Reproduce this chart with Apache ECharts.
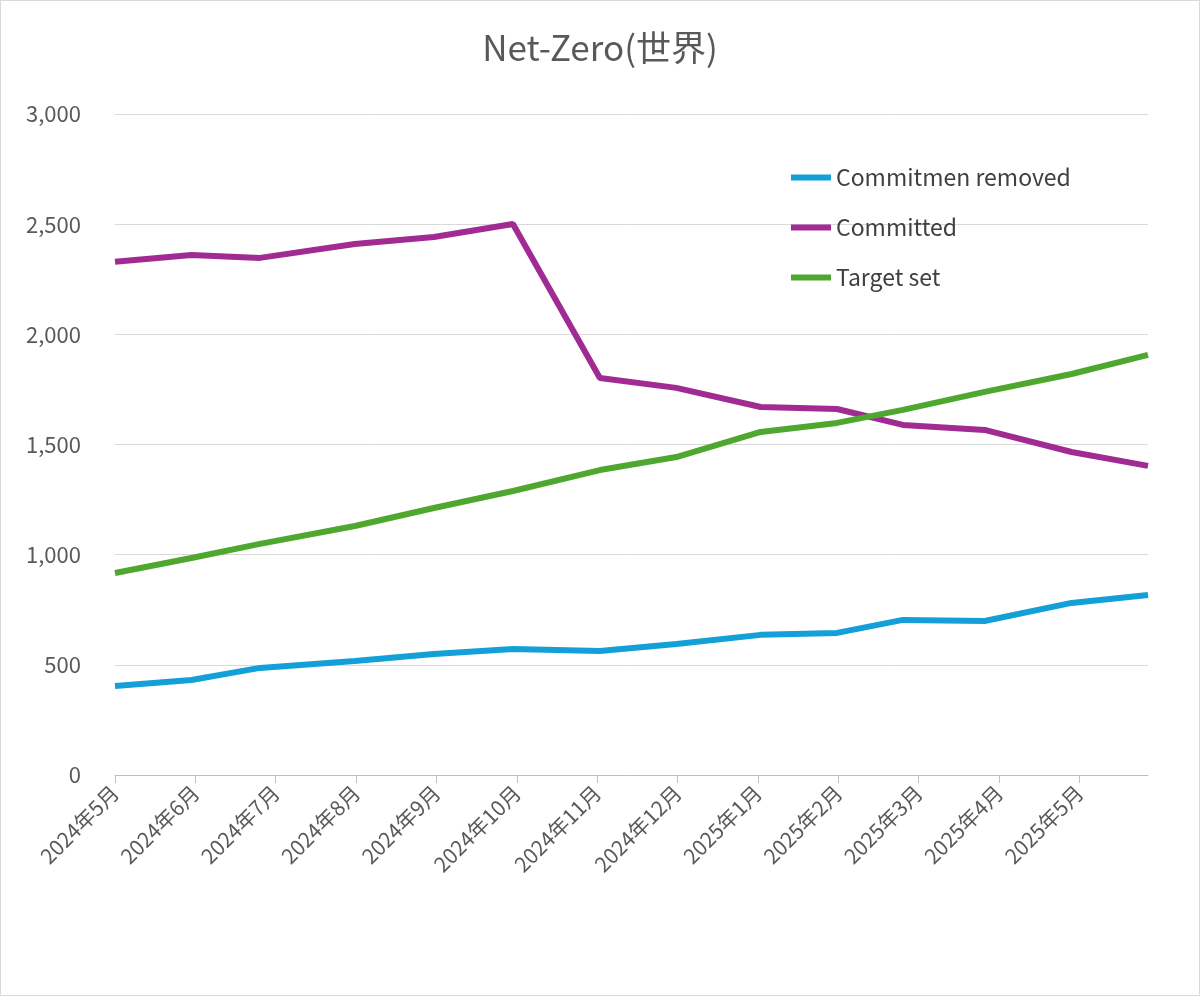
<!DOCTYPE html><html><head><meta charset="utf-8"><script src="https://cdn.jsdelivr.net/npm/echarts@6/dist/echarts.min.js"></script>
<style>html,body{margin:0}#c{width:1198px;height:994px;border:1px solid #d9d9d9;background:#fff}</style></head><body><div id="c"></div><script>
const monthLabels=['2024年5月','2024年6月','2024年7月','2024年8月','2024年9月','2024年10月','2024年11月','2024年12月','2025年1月','2025年2月','2025年3月','2025年4月','2025年5月'];
const dayOffsets=[0,29,55,91,121,151,184,213,245,274,299,330,363,392];
const removed=[404,431,486,517,549,572,563,595,636,645,704,699,781,817];
const committed=[2329,2360,2347,2410,2442,2501,1802,1757,1670,1661,1589,1566,1466,1403];
const targetSet=[917,985,1049,1130,1212,1289,1384,1443,1557,1598,1657,1739,1820,1907];
const z=a=>a.map((v,i)=>[dayOffsets[i],v]);
const ch=echarts.init(document.getElementById('c'));
const f="'Noto Sans CJK JP','Noto Sans',sans-serif";
ch.setOption({
title:{text:'Net-Zero(世界)',left:'center',top:24,textStyle:{fontFamily:f,fontSize:35,fontWeight:'normal',color:'#595959'}},
legend:{orient:'vertical',left:785,top:160,itemGap:27,itemWidth:40,icon:'rect',itemHeight:6,textStyle:{fontFamily:f,fontSize:23,color:'#404040'},data:['Commitmen removed','Committed','Target set']},
grid:{left:114,right:51,top:113,bottom:220},
xAxis:{type:'value',min:0,max:392,interval:30.5,splitLine:{show:false},axisLine:{lineStyle:{color:'#bfbfbf'}},axisTick:{show:true,length:8,lineStyle:{color:'#bfbfbf'}},
axisLabel:{rotate:45,fontFamily:f,fontSize:21,color:'#595959',margin:14,showMaxLabel:false,formatter:v=>{const i=Math.round(v/30.5);return Math.abs(v-i*30.5)<0.01&&i<monthLabels.length?monthLabels[i]:'';}}},
yAxis:{type:'value',min:0,max:3000,interval:500,axisLine:{show:false},axisTick:{show:false},splitLine:{lineStyle:{color:'#d9d9d9'}},axisLabel:{fontFamily:f,fontSize:22,color:'#595959',margin:34,formatter:v=>v.toLocaleString('en-US')}},
series:[
{name:'Commitmen removed',type:'line',data:z(removed),showSymbol:false,lineStyle:{width:6,color:'#12a0d7'},itemStyle:{color:'#12a0d7'}},
{name:'Committed',type:'line',data:z(committed),showSymbol:false,lineStyle:{width:6,color:'#a02b93'},itemStyle:{color:'#a02b93'}},
{name:'Target set',type:'line',data:z(targetSet),showSymbol:false,lineStyle:{width:6,color:'#4ea72e'},itemStyle:{color:'#4ea72e'}}
]});
</script></body></html>
